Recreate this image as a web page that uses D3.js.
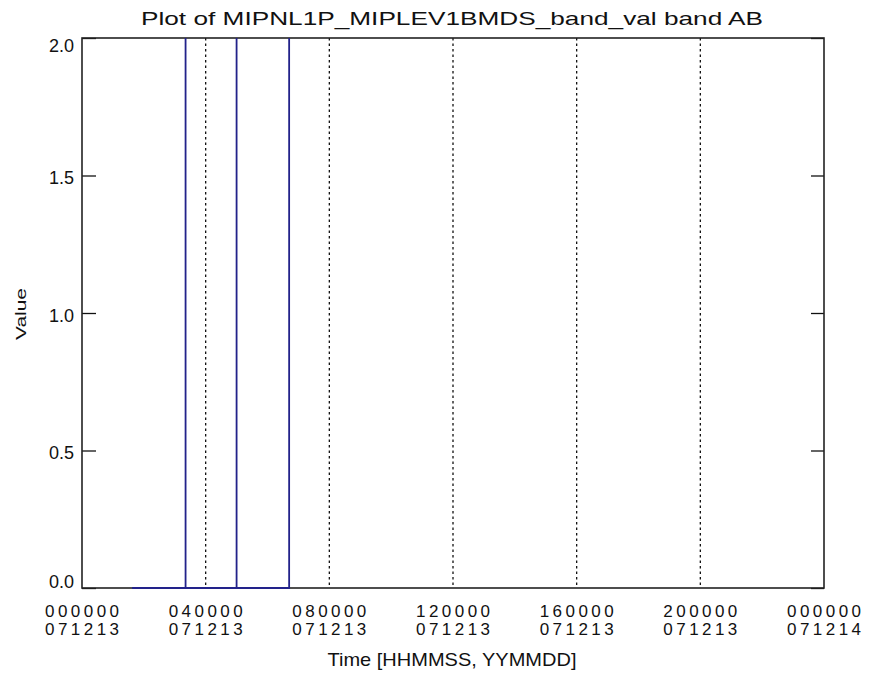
<!DOCTYPE html>
<html>
<head>
<meta charset="utf-8">
<script src="https://cdn.jsdelivr.net/npm/d3@7"></script>
<style>
  body { margin: 0; background: #fff; }
  text { font-family: "Liberation Sans", Arial, sans-serif; fill: #111; }
</style>
</head>
<body>
<div id="chart"></div>
<script>
// data (time in hours since 000000 071213)
var hours  = [1.62, 3.35, 3.35, 3.35, 5.00, 5.00, 5.00, 6.70, 6.70];
var values = [0,    0,    3,    0,    0,    3,    0,    0,    3];

var xTicks = [0, 4, 8, 12, 16, 20, 24];
var xTickTime = ["000000", "040000", "080000", "120000", "160000", "200000", "000000"];
var xTickDate = ["071213", "071213", "071213", "071213", "071213", "071213", "071214"];
var gridHours = [4, 8, 12, 16, 20];
var yTicks = [0, 0.5, 1.0, 1.5, 2.0];

// svg and chart parameters
var svgWidth = 873;
var svgHeight = 675;
var margin = { top: 38, right: 49, bottom: 87, left: 82 };
var width = svgWidth - margin.left - margin.right;
var height = svgHeight - margin.top - margin.bottom;

var svg = d3.select("#chart")
  .append("svg")
  .attr("width", svgWidth)
  .attr("height", svgHeight);

var chartGroup = svg.append("g")
  .attr("transform", `translate(${margin.left}, ${margin.top})`);

// scales
var xScale = d3.scaleLinear().domain([0, 24]).range([0, width]);
var yScale = d3.scaleLinear().domain([0, 2]).range([height, 0]);

// clip for the data (a little room below so the zero line shows)
chartGroup.append("clipPath").attr("id", "plotclip")
  .append("rect").attr("y", 0).attr("width", width).attr("height", height + 3);

// dotted grid lines
chartGroup.selectAll("line.grid")
  .data(gridHours)
  .enter()
  .append("line")
  .attr("class", "grid")
  .attr("x1", d => xScale(d)).attr("x2", d => xScale(d))
  .attr("y1", 0).attr("y2", height)
  .attr("stroke", "#111")
  .attr("stroke-width", 1.3)
  .attr("stroke-dasharray", "2.5,3");

// y ticks left and right, pointing inward
var leftAxis = d3.axisRight(yScale).tickValues(yTicks).tickSize(14).tickFormat("");
var rightAxis = d3.axisLeft(yScale).tickValues(yTicks).tickSize(13).tickFormat("");
chartGroup.append("g").call(leftAxis).call(g => g.select(".domain").remove());
chartGroup.append("g").attr("transform", `translate(${width}, 0)`)
  .call(rightAxis).call(g => g.select(".domain").remove());
chartGroup.selectAll(".tick line").attr("stroke", "#111").attr("stroke-width", 1.3);

// frame
chartGroup.append("rect")
  .attr("width", width).attr("height", height)
  .attr("fill", "none")
  .attr("stroke", "#222")
  .attr("stroke-width", 1.6);

// y tick labels
chartGroup.selectAll("text.ylab")
  .data(yTicks)
  .enter()
  .append("text")
  .attr("class", "ylab")
  .attr("x", -8)
  .attr("y", d => Math.min(Math.max(yScale(d) + 2, 7), height - 7) + 6.5)
  .attr("text-anchor", "end")
  .attr("font-size", 18)
  .text(d => d3.format(".1f")(d));

// x tick labels (two lines)
var xlab = chartGroup.selectAll("g.xlab")
  .data(xTicks)
  .enter()
  .append("g")
  .attr("class", "xlab")
  .attr("transform", d => `translate(${xScale(d)}, ${height})`);
xlab.append("text")
  .attr("y", 29)
  .attr("text-anchor", "middle")
  .attr("font-size", 17)
  .attr("textLength", 74)
  .attr("lengthAdjust", "spacing")
  .text((d, i) => xTickTime[i]);
xlab.append("text")
  .attr("y", 47)
  .attr("text-anchor", "middle")
  .attr("font-size", 17)
  .attr("textLength", 74)
  .attr("lengthAdjust", "spacing")
  .text((d, i) => xTickDate[i]);

// data line
var line = d3.line()
  .x((d, i) => xScale(hours[i]))
  .y(d => yScale(d));
chartGroup.append("path")
  .datum(values)
  .attr("clip-path", "url(#plotclip)")
  .attr("d", line)
  .attr("fill", "none")
  .attr("stroke", "#22228a")
  .attr("stroke-width", 1.8);

// title and axis labels
svg.append("text")
  .attr("x", 452).attr("y", 25)
  .attr("text-anchor", "middle")
  .attr("font-size", 19)
  .attr("textLength", 622)
  .attr("lengthAdjust", "spacingAndGlyphs")
  .text("Plot of MIPNL1P_MIPLEV1BMDS_band_val band AB");

svg.append("text")
  .attr("x", 452).attr("y", 666)
  .attr("text-anchor", "middle")
  .attr("font-size", 19)
  .attr("textLength", 249)
  .attr("lengthAdjust", "spacingAndGlyphs")
  .text("Time [HHMMSS, YYMMDD]");

svg.append("text")
  .attr("transform", "translate(26, 314) rotate(-90)")
  .attr("text-anchor", "middle")
  .attr("font-size", 15)
  .attr("textLength", 52)
  .attr("lengthAdjust", "spacingAndGlyphs")
  .text("Value");
</script>
</body>
</html>
